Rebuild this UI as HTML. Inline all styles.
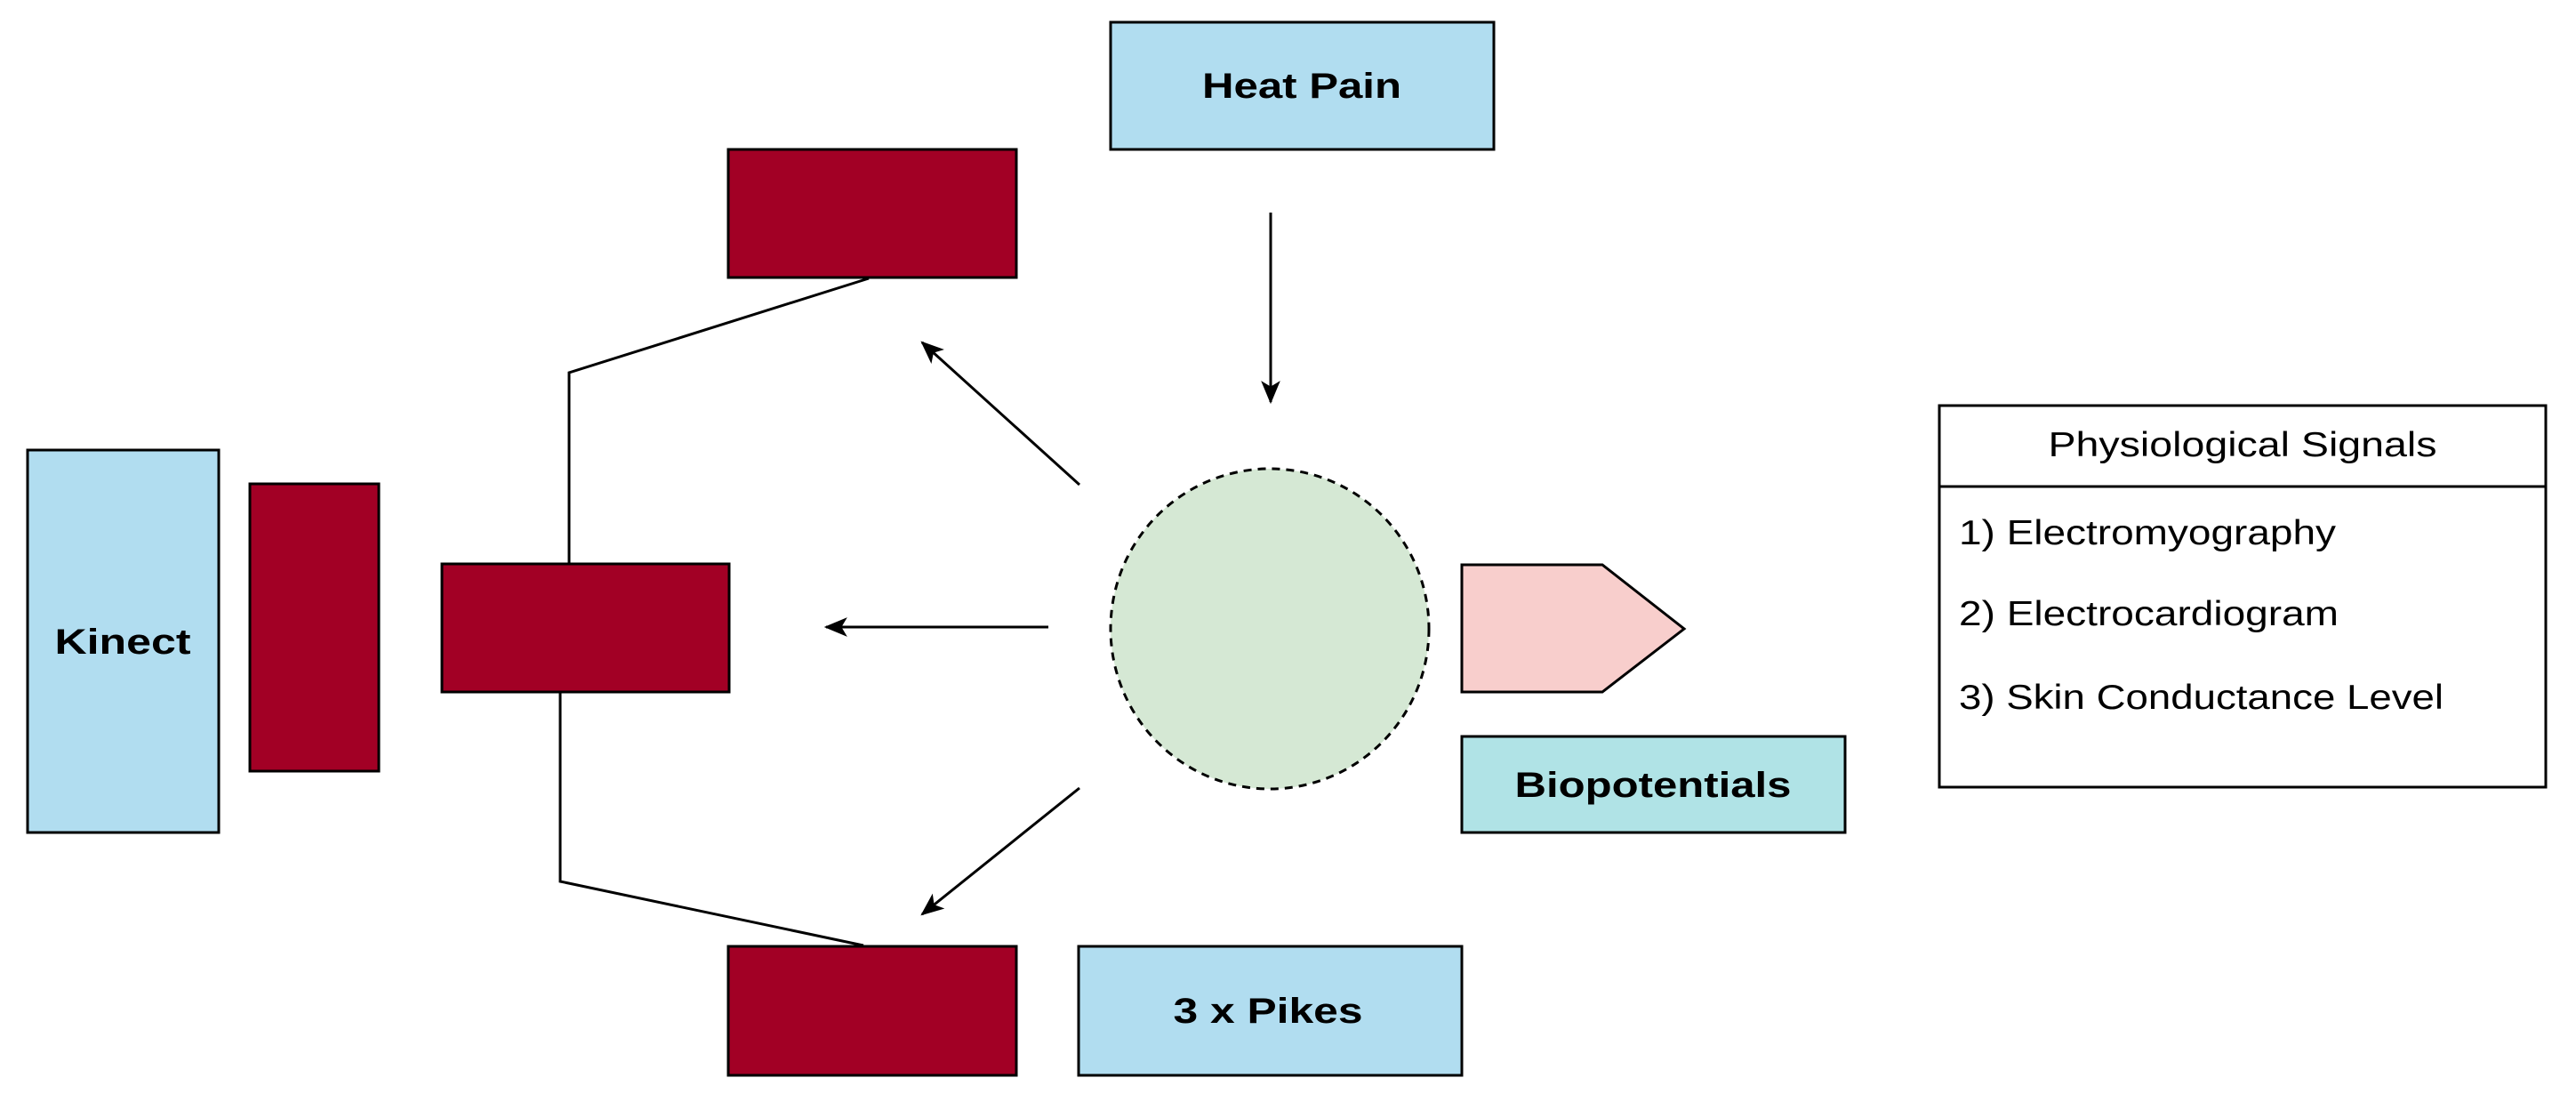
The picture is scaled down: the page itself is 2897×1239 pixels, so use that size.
<!DOCTYPE html>
<html><head><meta charset="utf-8"><style>
html,body{margin:0;padding:0;background:#fff;}
svg{display:block;}
text{font-family:"Liberation Sans",Arial,sans-serif;fill:#000;}
.b{font-weight:bold;font-size:40px;}
.n{font-size:39px;}
</style></head><body>
<svg width="2897" height="1239" viewBox="0 0 2897 1239" xmlns="http://www.w3.org/2000/svg">
<defs>
<marker id="ar" viewBox="0 0 10 10" refX="9" refY="5" markerWidth="9" markerHeight="9" markerUnits="userSpaceOnUse" orient="auto">
</marker>
<marker id="a" viewBox="0 0 12 10" refX="11" refY="5" markerWidth="26" markerHeight="22" markerUnits="userSpaceOnUse" orient="auto">
<path d="M0,0 L12,5 L0,10 L3,5 Z" fill="#000"/>
</marker>
</defs>
<!-- Heat Pain -->
<rect x="1249" y="25" width="431" height="143" fill="#b1ddf0" stroke="#000" stroke-width="3"/>
<text class="b" x="1464" y="110" text-anchor="middle" textLength="224" lengthAdjust="spacingAndGlyphs">Heat Pain</text>
<!-- red boxes -->
<rect x="819" y="168" width="324" height="144" fill="#a20025" stroke="#000" stroke-width="3"/>
<rect x="497" y="634" width="323" height="144" fill="#a20025" stroke="#000" stroke-width="3"/>
<rect x="819" y="1064" width="324" height="145" fill="#a20025" stroke="#000" stroke-width="3"/>
<rect x="281" y="544" width="145" height="323" fill="#a20025" stroke="#000" stroke-width="3"/>
<!-- Kinect -->
<rect x="31" y="506" width="215" height="430" fill="#b1ddf0" stroke="#000" stroke-width="3"/>
<text class="b" x="138" y="735" text-anchor="middle" textLength="153" lengthAdjust="spacingAndGlyphs">Kinect</text>
<!-- 3 x Pikes -->
<rect x="1213" y="1064" width="431" height="145" fill="#b1ddf0" stroke="#000" stroke-width="3"/>
<text class="b" x="1426" y="1150" text-anchor="middle" textLength="213" lengthAdjust="spacingAndGlyphs">3 x Pikes</text>
<!-- connectors -->
<polyline points="977,313 640,419 640,634" fill="none" stroke="#000" stroke-width="3"/>
<polyline points="630,778 630,991 971,1063" fill="none" stroke="#000" stroke-width="3"/>
<!-- arrows -->
<line x1="1214" y1="545" x2="1037" y2="385" stroke="#000" stroke-width="3" marker-end="url(#a)"/>
<line x1="1179" y1="705" x2="929" y2="705" stroke="#000" stroke-width="3" marker-end="url(#a)"/>
<line x1="1214" y1="886" x2="1037" y2="1028" stroke="#000" stroke-width="3" marker-end="url(#a)"/>
<line x1="1429" y1="239" x2="1429" y2="452" stroke="#000" stroke-width="3" marker-end="url(#a)"/>
<!-- circle -->
<ellipse cx="1428" cy="707" rx="179" ry="180" fill="#d5e8d4" stroke="#000" stroke-width="3" stroke-dasharray="9,7"/>
<!-- pentagon -->
<polygon points="1644,635 1802,635 1894,707 1802,778 1644,778" fill="#f8cecc" stroke="#000" stroke-width="3"/>
<!-- Biopotentials -->
<rect x="1644" y="828" width="431" height="108" fill="#b0e3e6" stroke="#000" stroke-width="3"/>
<text class="b" x="1859" y="896" text-anchor="middle" textLength="311" lengthAdjust="spacingAndGlyphs">Biopotentials</text>
<!-- table -->
<rect x="2181" y="456" width="682" height="429" fill="#fff" stroke="#000" stroke-width="3"/>
<line x1="2181" y1="547" x2="2863" y2="547" stroke="#000" stroke-width="3"/>
<text class="n" x="2522" y="513" text-anchor="middle" textLength="437" lengthAdjust="spacingAndGlyphs">Physiological Signals</text>
<text class="n" x="2203" y="612" textLength="424" lengthAdjust="spacingAndGlyphs">1) Electromyography</text>
<text class="n" x="2203" y="703" textLength="427" lengthAdjust="spacingAndGlyphs">2) Electrocardiogram</text>
<text class="n" x="2203" y="797" textLength="545" lengthAdjust="spacingAndGlyphs">3) Skin Conductance Level</text>
</svg>
</body></html>
